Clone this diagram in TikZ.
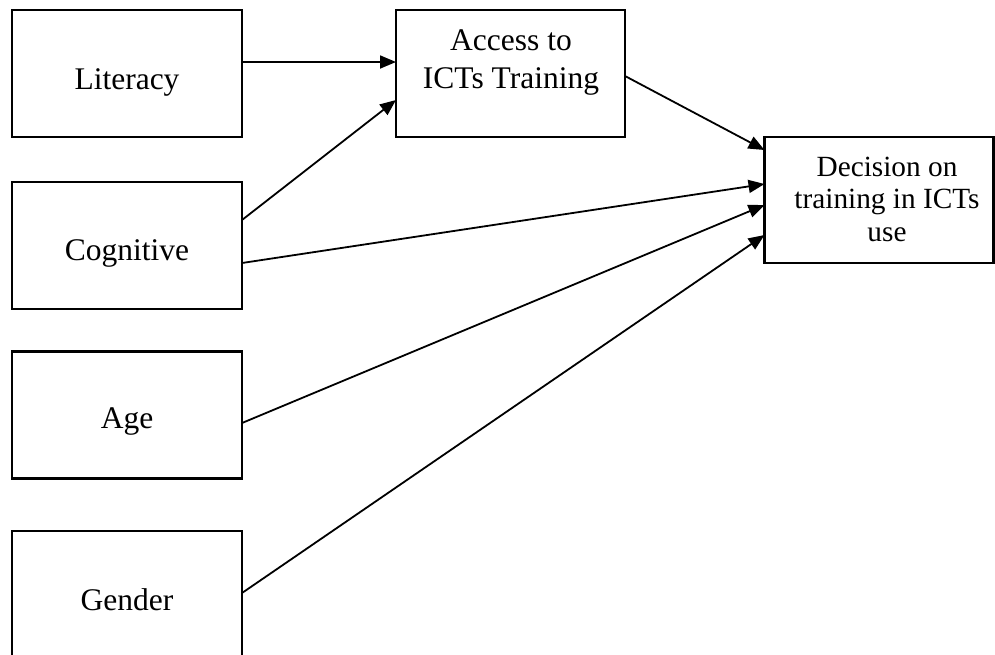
\documentclass[tikz,border=0pt]{standalone}
\usepackage{fontspec}
\setmainfont{Liberation Serif}
\usetikzlibrary{arrows.meta}
\begin{document}
\begin{tikzpicture}[x=1pt, y=-1pt, line width=1.8pt, >={Triangle[length=16pt,width=13pt]},
                    box/.style={draw, line width=2.2pt, inner sep=0pt, outer sep=0pt, minimum width=230pt, minimum height=127pt},
                    txt/.style={anchor=base, inner sep=0pt, align=center, font=\fontsize{31.5}{38}\selectfont},
                    dectxt/.style={txt, font=\fontsize{29.3}{32.5}\selectfont}]
                    \useasboundingbox (0,0) rectangle (995,654);
                    \node[box] (lit) at (127,73.5) {};
                    \node[box] (cog) at (127,245.5) {};
                    \node[box] (age) at (127,415) {};
                    \node[box] (gen) at (127,594.5) {};
                    \node[box, minimum width=229pt] (acc) at (510.5,73.5) {};
                    \node[box, minimum width=229pt, minimum height=126pt] (dec) at (879,200) {};
                    \node[txt] (litTxt) at (127,89) {Literacy};
                    \node[txt] (cogTxt) at (127,260) {Cognitive};
                    \node[txt] (ageTxt) at (127,428) {Age};
                    \node[txt] (genTxt) at (127,610) {Gender};
                    \node[txt] (accTxt) at (511,88) {Access to\\ICTs Training};
                    \node[dectxt] (decTxt) at (887,241) {Decision on\\training in ICTs\\use};
                    \draw[->] ([yshift=11.5pt]lit.east) -- ([yshift=11.5pt]acc.west);
                    \draw[->] ([yshift=25.5pt]cog.east) -- ([yshift=-26.5pt]acc.west);
                    \draw[->] ([yshift=-2.5pt]acc.east) -- ([yshift=50pt]dec.west);
                    \draw[->] ([yshift=-17.5pt]cog.east) -- ([yshift=16pt]dec.west);
                    \draw[->] ([yshift=-8pt]age.east) -- ([yshift=-5pt]dec.west);
                    \draw[->] ([yshift=1.5pt]gen.east) -- ([yshift=-35pt]dec.west);
                \end{tikzpicture}
\end{document}
